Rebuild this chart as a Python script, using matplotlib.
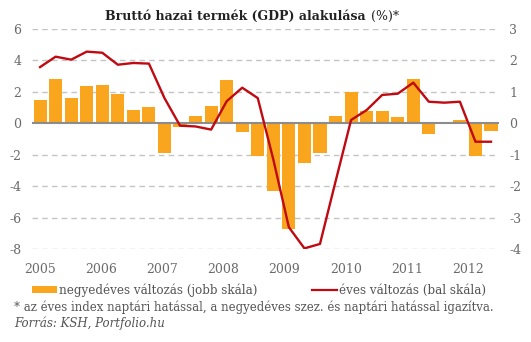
import matplotlib
matplotlib.use('Agg')
import matplotlib.pyplot as plt
import numpy as np
from matplotlib.patches import Patch
from matplotlib.lines import Line2D

# ---- data ----
quarters = [f"{y} Q{q}" for y in range(2005, 2013) for q in range(1, 5)][:30]
quarterly_change = [0.74, 1.41, 0.80, 1.18, 1.22, 0.93, 0.42, 0.52,
                    -0.94, -0.12, 0.23, 0.55, 1.37, -0.28, -1.04, -2.14,
                    -3.35, -1.25, -0.93, 0.23, 0.99, 0.39, 0.39, 0.20,
                    1.41, -0.33, 0.0, 0.10, -1.03, -0.23]
annual_change = [3.57, 4.23, 4.04, 4.55, 4.48, 3.72, 3.83, 3.79,
                 1.6, -0.15, -0.2, -0.4, 1.4, 2.26, 1.6, -2.3,
                 -6.6, -7.94, -7.66, -3.7, 0.21, 0.84, 1.8, 1.88,
                 2.58, 1.37, 1.31, 1.37, -1.17, -1.17]
year_labels = ['2005', '2006', '2007', '2008', '2009', '2010', '2011', '2012']
left_ticks = [-8, -6, -4, -2, 0, 2, 4, 6]
right_ticks = [-4, -3, -2, -1, 0, 1, 2, 3]

BAR_C = '#F9A51D'
LINE_C = '#C00A12'
TICK_C = '#6b6b6b'
FONT = 'DejaVu Serif'
plt.rcParams['font.family'] = [FONT]
plt.rcParams['axes.unicode_minus'] = False

W, H = 531, 342
fig = plt.figure(figsize=(W / 100, H / 100), dpi=100)
ax_l = fig.add_axes([32.3 / W, 92.7 / H, 466.5 / W, 220.5 / H])
ax_r = ax_l.twinx()
# bars (right scale) behind the line (left scale)
ax_r.set_zorder(0)
ax_l.set_zorder(1)
ax_l.patch.set_visible(False)

x = np.arange(len(quarters))
ax_r.bar(x, quarterly_change, width=0.84, color=BAR_C, zorder=2)
ax_r.axhline(0, color='#8c8c8c', lw=1.5, zorder=3)
ax_l.plot(x, annual_change, color=LINE_C, lw=1.7, zorder=4, solid_joinstyle='round')

ax_l.set_ylim(-8, 6)
ax_r.set_ylim(-4, 3)
ax_l.set_xlim(-0.5, len(quarters) - 0.5)
ax_l.set_yticks(left_ticks)
ax_r.set_yticks(right_ticks)
ax_l.set_xticks(np.arange(len(year_labels)) * 3.93)
ax_l.set_xticklabels(year_labels)

for t in left_ticks:
    if t != 0:
        ax_r.axhline(t / 2, color='#c4c4c4', lw=1.0, ls=(0, (4, 3)), zorder=1)

for a in (ax_l, ax_r):
    for s in a.spines.values():
        s.set_visible(False)
ax_l.tick_params(axis='y', length=0, pad=8, labelsize=9, labelcolor=TICK_C)
ax_r.tick_params(axis='y', length=0, pad=7.5, labelsize=9, labelcolor=TICK_C)
ax_l.tick_params(axis='x', length=0, pad=10, labelsize=9, labelcolor=TICK_C)

# legend
handles = [Patch(facecolor=BAR_C, edgecolor='none'),
           Line2D([0], [0], color=LINE_C, lw=1.6)]
labels = ['negyedéves változás (jobb skála)', 'éves változás (bal skála)']
fig.legend(handles, labels, loc='center left', bbox_to_anchor=(32 / W, 1 - 290 / H),
           ncol=2, frameon=False, fontsize=8.6, borderpad=0, borderaxespad=0,
           handlelength=2.1, handleheight=0.5, handletextpad=0.2, columnspacing=4.5,
           labelcolor='#555555')

fig.text(14 / W, 1 - 307 / H,
         '* az éves index naptári hatással, a negyedéves szez. és naptári hatással igazítva.',
         fontsize=8.45, color='#555555', va='center', ha='left')
fig.text(14 / W, 1 - 323.5 / H, 'Forrás: KSH, Portfolio.hu', fontsize=8.45,
         color='#555555', va='center', ha='left', style='italic')

# title: bold part + normal part
renderer = fig.canvas.get_renderer()
t1 = fig.text(105 / W, 1 - 16 / H, 'Bruttó hazai termék (GDP) alakulása', fontsize=9,
              fontweight='bold', color='#222222', va='center', ha='left')
bb = t1.get_window_extent(renderer)
fig.text((bb.x1 + 5) / W, 1 - 16 / H, '(%)*', fontsize=9, color='#222222',
         va='center', ha='left')

fig.savefig('out.png', dpi=100)
